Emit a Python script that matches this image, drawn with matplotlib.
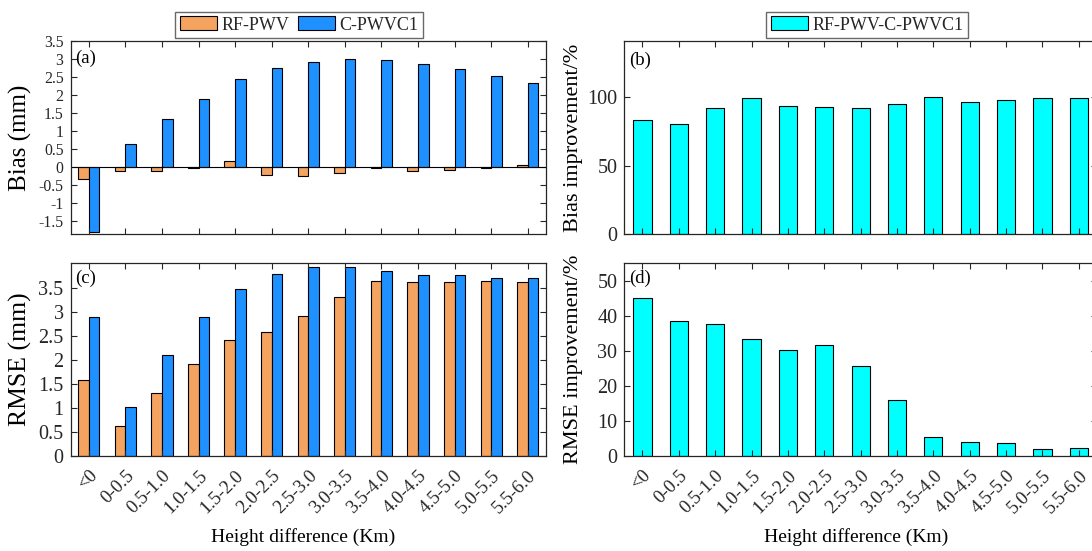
import numpy as np
import matplotlib
matplotlib.use("Agg")
import matplotlib.pyplot as plt

plt.rcParams['font.family'] = ['Liberation Serif', 'DejaVu Serif']
plt.rcParams['axes.edgecolor'] = '#262626'
plt.rcParams['xtick.color'] = '#262626'
plt.rcParams['ytick.color'] = '#262626'
plt.rcParams['text.color'] = '#262626'

categories = ["<0", "0-0.5", "0.5-1.0", "1.0-1.5", "1.5-2.0", "2.0-2.5", "2.5-3.0",
              "3.0-3.5", "3.5-4.0", "4.0-4.5", "4.5-5.0", "5.0-5.5", "5.5-6.0"]

bias_rf = [-0.32, -0.12, -0.11, -0.03, 0.18, -0.21, -0.25, -0.17, -0.03, -0.11, -0.07, -0.03, 0.06]
bias_c = [-1.81, 0.64, 1.34, 1.90, 2.45, 2.76, 2.92, 2.99, 2.97, 2.87, 2.71, 2.53, 2.32]
bias_impr = [82.9, 80.4, 92.0, 99.0, 93.2, 92.5, 91.5, 94.9, 99.5, 96.4, 97.8, 99.3, 99.0]

rmse_rf = [1.585, 0.627, 1.31, 1.92, 2.41, 2.59, 2.91, 3.31, 3.645, 3.62, 3.62, 3.645, 3.62]
rmse_c = [2.90, 1.02, 2.095, 2.89, 3.47, 3.80, 3.93, 3.93, 3.85, 3.78, 3.76, 3.71, 3.70]
rmse_impr = [45.1, 38.4, 37.5, 33.3, 30.3, 31.7, 25.7, 15.9, 5.3, 4.1, 3.7, 2.0, 2.3]

orange = '#F4A460'
blue = '#1E90FF'
cyan = '#00FFFF'

W, H = 1092, 551
fig = plt.figure(figsize=(W / 100, H / 100), dpi=100)


def box(l, r, t, b):
    return [l / W, 1 - b / H, (r - l) / W, (b - t) / H]


# the right column runs past the right edge of the picture, as in the reference
ax_a = fig.add_axes(box(70.5, 546, 41, 234.3))
ax_c = fig.add_axes(box(70.5, 546, 263, 456))
ax_b = fig.add_axes(box(624.3, 1097, 41, 234.3))
ax_d = fig.add_axes(box(624.3, 1097, 263, 456))

x = np.arange(1, len(categories) + 1)
bw = 0.29
off = 0.145
leg_kw = dict(frameon=True, fancybox=False, edgecolor='#444444', fontsize=13,
              handlelength=2.05, handleheight=0.83, borderpad=0.25,
              handletextpad=0.25, columnspacing=0.5, borderaxespad=0)

# (a) bias
ax_a.bar(x - off, bias_rf, bw, color=orange, edgecolor='black', linewidth=0.8, label='RF-PWV')
ax_a.bar(x + off, bias_c, bw, color=blue, edgecolor='black', linewidth=0.8, label='C-PWVC1')
ax_a.axhline(0, color='black', linewidth=0.8)
ax_a.set_ylim(-1.87, 3.5)
yt = np.arange(-1.5, 3.51, 0.5)
ax_a.set_yticks(yt)
ax_a.set_yticklabels([f"{v:g}" for v in yt])
ax_a.set_ylabel("Bias (mm)", fontsize=18)
ax_a.tick_params(axis='y', labelsize=11.3)
fig.legend(*ax_a.get_legend_handles_labels(), loc='center', ncol=2,
           bbox_to_anchor=(299 / W, 1 - 25 / H), **leg_kw)

# (c) rmse
ax_c.bar(x - off, rmse_rf, bw, color=orange, edgecolor='black', linewidth=0.8)
ax_c.bar(x + off, rmse_c, bw, color=blue, edgecolor='black', linewidth=0.8)
ax_c.set_ylim(0, 4.02)
yt = np.arange(0, 3.51, 0.5)
ax_c.set_yticks(yt)
ax_c.set_yticklabels([f"{v:g}" for v in yt])
ax_c.set_ylabel("RMSE (mm)", fontsize=18.5)

# (b) bias improvement
ax_b.bar(x, bias_impr, 0.5, color=cyan, edgecolor='black', linewidth=0.8, label='RF-PWV-C-PWVC1')
ax_b.set_ylim(0, 140.5)
ax_b.set_yticks([0, 50, 100])
ax_b.set_ylabel("Bias improvement/%", fontsize=16)
fig.legend(*ax_b.get_legend_handles_labels(), loc='center',
           bbox_to_anchor=(867 / W, 1 - 25 / H), **leg_kw)

# (d) rmse improvement
ax_d.bar(x, rmse_impr, 0.5, color=cyan, edgecolor='black', linewidth=0.8)
ax_d.set_ylim(0, 55)
ax_d.set_yticks(np.arange(0, 51, 10))
ax_d.set_ylabel("RMSE improvement/%", fontsize=16)

for ax, lab, ty in [(ax_a, "(a)", 0.912), (ax_c, "(c)", 0.92), (ax_b, "(b)", 0.90), (ax_d, "(d)", 0.92)]:
    ax.set_xlim(0.5, 13.5)
    ax.set_xticks(x)
    ax.tick_params(direction='in', top=True, right=True, length=4, width=0.8, pad=5)
    ax.text(0.01, ty, lab, transform=ax.transAxes, fontsize=13.5, ha='left', va='center', color='black')
    for s in ax.spines.values():
        s.set_linewidth(0.9)

for ax in (ax_b, ax_c, ax_d):
    ax.tick_params(axis='y', labelsize=14.5)

ax_a.yaxis.set_label_coords(-0.081, 0.5)
ax_c.yaxis.set_label_coords(-0.081, 0.5)
ax_b.yaxis.set_label_coords(-0.087, 0.5)
ax_d.yaxis.set_label_coords(-0.087, 0.5)

ax_a.set_xticklabels([])
ax_b.set_xticklabels([])
for ax in (ax_c, ax_d):
    ax.set_xticklabels(categories, rotation=45, ha='right', va='top',
                       rotation_mode='anchor', fontsize=13.5)
    ax.tick_params(axis='x', pad=8)
    ax.set_xlabel("Height difference (Km)", fontsize=14, va='top')
    ax.xaxis.set_label_coords(0.49, -0.373)

fig.savefig("out.png", dpi=100)
